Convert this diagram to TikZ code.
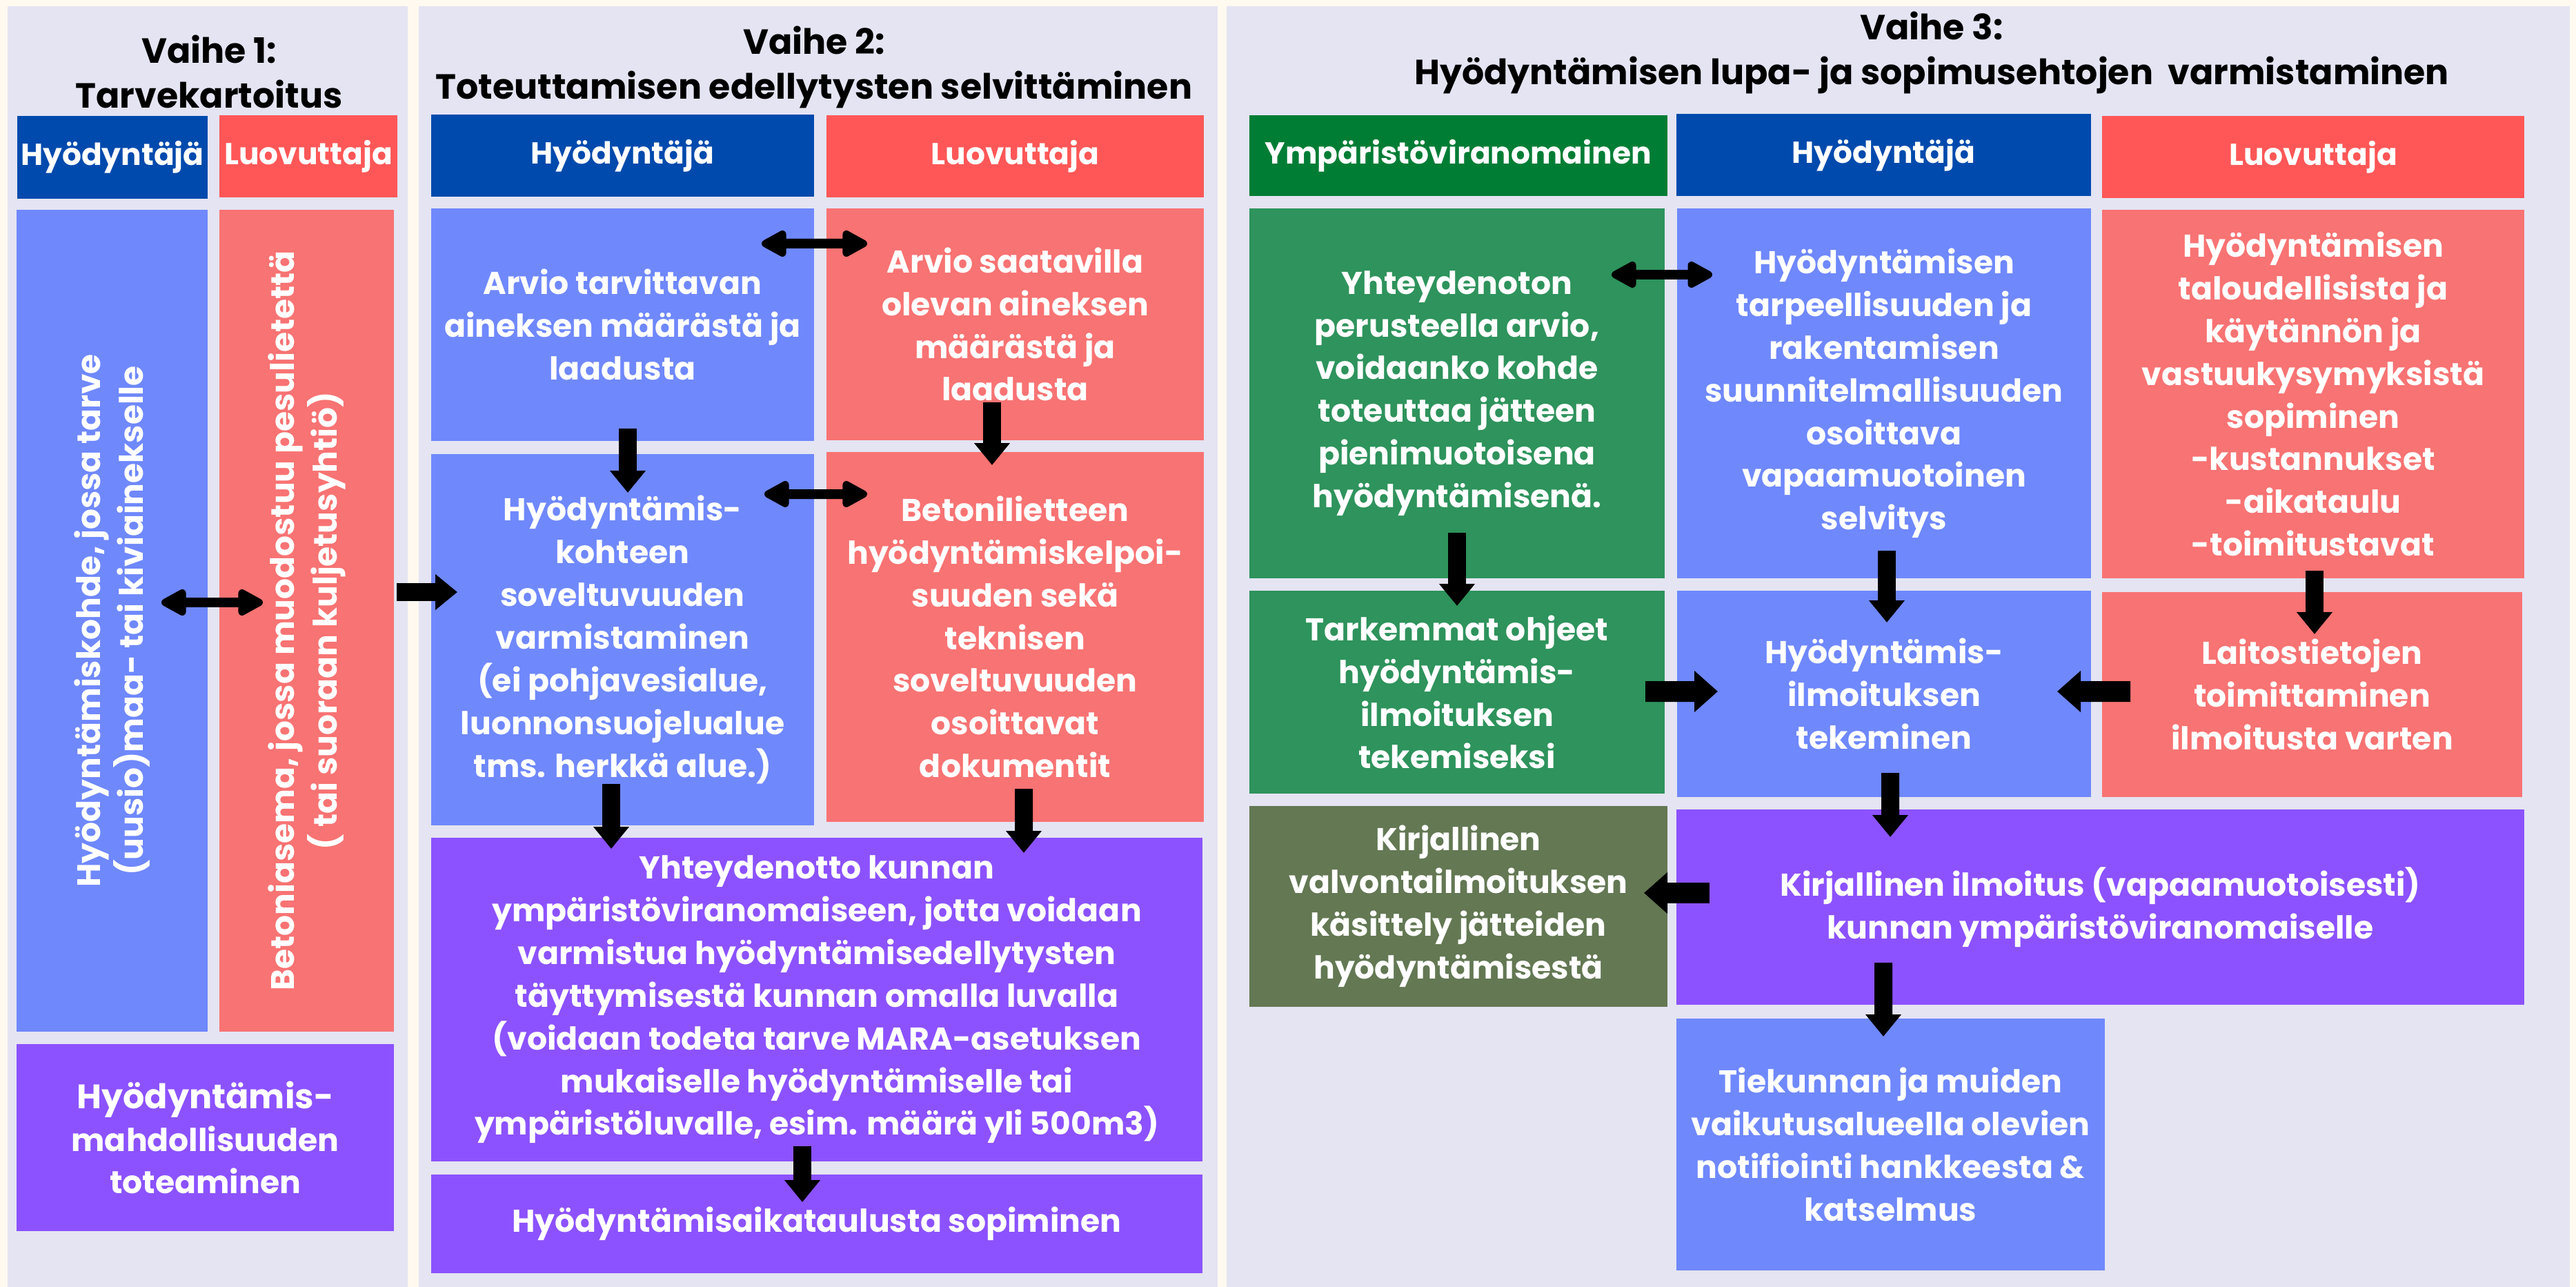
\documentclass[tikz,border=0pt]{standalone}
\usepackage{fontspec}
\newfontfamily\pop{Poppins}
\usetikzlibrary{arrows.meta,calc}
\definecolor{cream}{HTML}{FFF9F0}
\definecolor{panel}{HTML}{E4E4F3}
\definecolor{hblue}{HTML}{004AAD}
\definecolor{hred}{HTML}{FF5757}
\definecolor{bblue}{HTML}{6F88FC}
\definecolor{bred}{HTML}{F87373}
\definecolor{purp}{HTML}{8C52FF}
\definecolor{hgreen}{HTML}{007D35}
\definecolor{bgreen}{HTML}{2E935C}
\definecolor{olive}{HTML}{637853}
\tikzset{
  cell/.style={fill=#1, text=white, inner sep=0pt, align=center,
    font=\pop\bfseries\fontsize{13}{17.6}\selectfont},
  hdr/.style={cell=#1, font=\pop\bfseries\fontsize{12.5}{15}\selectfont},
  rot/.style={cell=#1, rotate=90, font=\pop\bfseries\fontsize{13.4}{17.6}\selectfont},
  ttl/.style={text=black, align=center, inner sep=0pt,
    font=\pop\bfseries\fontsize{14.4}{18.5}\selectfont},
  fat/.style={line width=0.26cm, -{Triangle[width=0.5cm,length=0.32cm]}},
  fatter/.style={line width=0.3cm, -{Triangle[width=0.58cm,length=0.34cm]}},
  twoway/.style={line width=0.14cm, {Triangle[round,width=0.42cm,length=0.42cm]}-{Triangle[round,width=0.42cm,length=0.42cm]}},
}
\newcommand\cbox[7]{\node[cell=#2, minimum width={(#5-#3)*1cm}, minimum height={(#6-#4)*1cm}] (#1) at ({(#3+#5)/2},{-(#4+#6)/2}) {#7};}
\newcommand\hdrbox[7]{\node[hdr=#2, minimum width={(#5-#3)*1cm}, minimum height={(#6-#4)*1cm}] (#1) at ({(#3+#5)/2},{-(#4+#6)/2}) {#7};}
\begin{document}
\begin{tikzpicture}
\fill[cream] (0,0) rectangle (37.34,-18.65);
\useasboundingbox (0,0) rectangle (37.34,-18.65);
% panels
\fill[panel] (0.11,-0.09) rectangle (5.91,-18.65);
\fill[panel] (6.07,-0.09) rectangle (17.65,-18.65);
\fill[panel] (17.78,-0.09) rectangle (37.25,-18.65);

% titles
\node[ttl] (t1) at (3.03,-1.035) {Vaihe 1:\\Tarvekartoitus};
\node[ttl] (t2) at (11.80,-0.975) {Vaihe 2:\\Toteuttamisen edellytysten selvittäminen};
\node[ttl] (t3) at (28.00,-0.76) {Vaihe 3:\\Hyödyntämisen lupa- ja sopimusehtojen\ \ varmistaminen};

% Panel 1
\hdrbox{h1a}{hblue}{0.25}{1.68}{3.01}{2.88}{Hyödyntäjä}
\hdrbox{h1b}{hred}{3.18}{1.67}{5.76}{2.86}{Luovuttaja}
\node[rot=bblue, minimum width=11.91cm, minimum height=2.77cm] (b1a) at (1.625,-8.995)
  {Hyödyntämiskohde, jossa tarve\\(uusio)maa- tai kiviainekselle};
\node[rot=bred, minimum width=11.91cm, minimum height=2.53cm] (b1b) at (4.445,-8.995)
  {Betoniasema, jossa muodostuu pesulietettä\\( tai suoraan kuljetusyhtiö)};
\cbox{b1c}{purp}{0.24}{15.13}{5.71}{17.84}{\fontsize{14}{19}\selectfont Hyödyntämis-\\mahdollisuuden\\toteaminen}

% Panel 2
\hdrbox{h2a}{hblue}{6.25}{1.66}{11.80}{2.85}{Hyödyntäjä}
\hdrbox{h2b}{hred}{11.98}{1.67}{17.45}{2.86}{Luovuttaja}
\cbox{b2a}{bblue}{6.25}{3.02}{11.80}{6.39}{Arvio tarvittavan\\aineksen määrästä ja\\laadusta}
\cbox{b2b}{bred}{11.98}{3.02}{17.45}{6.38}{Arvio saatavilla\\olevan aineksen\\määrästä ja\\laadusta}
\cbox{b2c}{bblue}{6.25}{6.58}{11.80}{11.96}{Hyödyntämis-\\kohteen\\soveltuvuuden\\varmistaminen\\(ei pohjavesialue,\\luonnonsuojelualue\\tms. herkkä alue.)}
\cbox{b2d}{bred}{11.98}{6.55}{17.45}{11.91}{Betonilietteen\\hyödyntämiskelpoi-\\suuden sekä\\teknisen\\soveltuvuuden\\osoittavat\\dokumentit}
\cbox{b2e}{purp}{6.25}{12.14}{17.43}{16.83}{Yhteydenotto kunnan\\ympäristöviranomaiseen, jotta voidaan\\varmistua hyödyntämisedellytysten\\täyttymisestä kunnan omalla luvalla\\(voidaan todeta tarve MARA-asetuksen\\mukaiselle hyödyntämiselle tai\\ympäristöluvalle, esim. määrä yli 500m3)}
\cbox{b2f}{purp}{6.25}{17.02}{17.43}{18.45}{Hyödyntämisaikataulusta sopiminen}

% Panel 3
\hdrbox{h3a}{hgreen}{18.11}{1.67}{24.17}{2.84}{Ympäristöviranomainen}
\hdrbox{h3b}{hblue}{24.30}{1.65}{30.31}{2.84}{Hyödyntäjä}
\hdrbox{h3c}{hred}{30.47}{1.68}{36.59}{2.87}{Luovuttaja}
\cbox{b3a}{bgreen}{18.11}{3.02}{24.13}{8.38}{Yhteydenoton\\perusteella arvio,\\voidaanko kohde\\toteuttaa jätteen\\pienimuotoisena\\hyödyntämisenä.}
\cbox{b3b}{bblue}{24.31}{3.02}{30.31}{8.38}{Hyödyntämisen\\tarpeellisuuden ja\\rakentamisen\\suunnitelmallisuuden\\osoittava\\vapaamuotoinen\\selvitys}
\cbox{b3c}{bred}{30.47}{3.04}{36.59}{8.38}{Hyödyntämisen\\taloudellisista ja\\käytännön ja\\vastuukysymyksistä\\sopiminen\\-kustannukset\\-aikataulu\\-toimitustavat}
\cbox{b3d}{bgreen}{18.11}{8.56}{24.13}{11.50}{Tarkemmat ohjeet\\hyödyntämis-\\ilmoituksen\\tekemiseksi}
\cbox{b3e}{bblue}{24.31}{8.56}{30.31}{11.55}{Hyödyntämis-\\ilmoituksen\\tekeminen}
\cbox{b3f}{bred}{30.47}{8.58}{36.56}{11.55}{Laitostietojen\\toimittaminen\\ilmoitusta varten}
\cbox{b3g}{olive}{18.11}{11.68}{24.17}{14.59}{Kirjallinen\\valvontailmoituksen\\käsittely jätteiden\\hyödyntämisestä}
\cbox{b3h}{purp}{24.30}{11.73}{36.59}{14.56}{Kirjallinen ilmoitus (vapaamuotoisesti)\\kunnan ympäristöviranomaiselle}
\cbox{b3i}{bblue}{24.30}{14.76}{30.51}{18.41}{Tiekunnan ja muiden\\vaikutusalueella olevien\\notifiointi hankkeesta \&\\katselmus}

% connectors
\draw[twoway] ([shift={(0.715,0.265)}]b1a.center) -- ([shift={(-0.635,0.265)}]b1b.center);
\draw[fat] ([shift={(1.305,0.415)}]b1b.center) -- ([shift={(-2.395,0.69)}]b2c.center);
\draw[twoway] ([shift={(2.015,1.175)}]b2a.center) -- ([shift={(-2.145,1.17)}]b2b.center);
\draw[twoway] ([shift={(2.055,2.11)}]b2c.center) -- ([shift={(-2.145,2.07)}]b2d.center);
\draw[fat] ([shift={(0.075,-1.505)}]b2a.center) -- ([shift={(0.075,2.13)}]b2c.center);
\draw[fat] ([shift={(-0.335,-1.13)}]b2b.center) -- ([shift={(-0.335,2.49)}]b2d.center);
\draw[fat] ([shift={(-0.165,-2.09)}]b2c.center) -- ([shift={(-2.98,2.185)}]b2e.center);
\draw[fat] ([shift={(0.125,-2.2)}]b2d.center) -- ([shift={(3.0,2.125)}]b2e.center);
\draw[fat] ([shift={(-0.21,-2.125)}]b2e.center) -- ([shift={(-0.21,0.315)}]b2f.center);
\draw[twoway] ([shift={(2.24,1.72)}]b3a.center) -- ([shift={(-2.49,1.72)}]b3b.center);
\draw[fat] ([shift={(0,-2.02)}]b3a.center) -- ([shift={(0,1.25)}]b3d.center);
\draw[fat] ([shift={(0.04,-2.28)}]b3b.center) -- ([shift={(0.04,1.035)}]b3e.center);
\draw[fat] ([shift={(0.02,-2.56)}]b3c.center) -- ([shift={(0.035,0.875)}]b3f.center);
\draw[fatter] ([shift={(2.73,0.01)}]b3d.center) -- ([shift={(-2.41,0.035)}]b3e.center);
\draw[fatter] ([shift={(-2.635,0.045)}]b3f.center) -- ([shift={(2.51,0.035)}]b3e.center);
\draw[fat] ([shift={(0.09,-1.145)}]b3e.center) -- ([shift={(-3.045,1.015)}]b3h.center);
\draw[fatter] ([shift={(-5.665,0.205)}]b3h.center) -- ([shift={(2.69,0.195)}]b3g.center);
\draw[fat] ([shift={(-3.145,-0.805)}]b3h.center) -- ([shift={(-0.105,1.565)}]b3i.center);
\end{tikzpicture}
\end{document}
